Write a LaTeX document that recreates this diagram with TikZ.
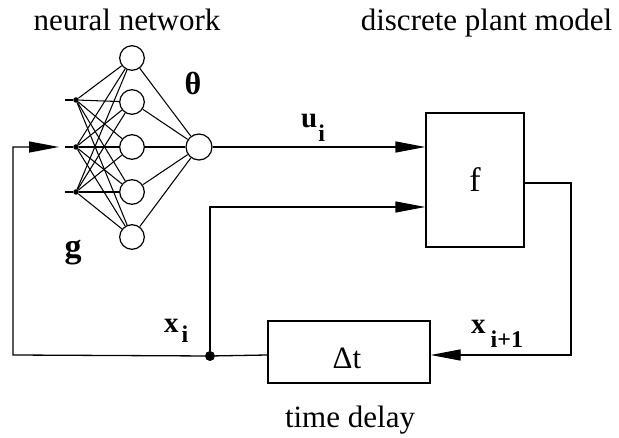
\documentclass[tikz,border=0pt]{standalone}
\usepackage{fontspec}
\setmainfont{Liberation Serif}
\usetikzlibrary{arrows.meta}
\newcommand\lowsub[2]{\raisebox{-#1}{\fontsize{24}{28}\selectfont #2}}
\begin{document}
\begin{tikzpicture}[x=1pt,y=-1pt,
  wire/.style={line width=1.3pt},
  thin wire/.style={line width=1.05pt},
  arr/.style={wire,-{Triangle[length=30pt,width=11pt]}},
  neuron/.style={circle,draw,line width=1.2pt,minimum size=24.6pt,inner sep=0pt},
  indot/.style={circle,fill,inner sep=0pt,minimum size=5.5pt},
  block/.style={draw,line width=1.3pt,inner sep=0pt},
  big/.style={font=\fontsize{31}{36}\selectfont,inner sep=0pt},
  sym/.style={font=\fontsize{32}{36}\selectfont\bfseries,inner sep=0pt},
  lbl/.style={font=\fontsize{29}{34}\selectfont\bfseries,inner sep=0pt,anchor=base west},
]
\path[use as bounding box] (0,0) rectangle (619,438);
% neural network
\foreach \n/\y in {1/58,2/102,3/147,4/192,5/237}
  \node[neuron] (h\n) at (132,\y) {};
\node[neuron,minimum size=26pt] (o) at (199,147) {};
\foreach \n/\y in {1/100,2/147,3/192}{
  \node[indot] (i\n) at (76,\y) {};
  \coordinate (s\n) at (65,\y);
}
\foreach \a in {1,2,3}{
  \draw[thin wire] (s\a) -- (i\a);
  \foreach \b in {1,...,5} \draw[thin wire] (i\a) -- (h\b);
}
\foreach \b in {1,...,5} \draw[thin wire] (h\b) -- (o);
% plant
\node[block,minimum width=98pt,minimum height=134pt,font=\fontsize{34}{38}\selectfont] (f) at (475,180) {f};
\draw[arr] (o) -- (o -| f.west);
% delay
\node[block,minimum width=162pt,minimum height=62pt] (dt) at (349,352) {};
\node[big] (dtl) at (347,358) {Δt};
\node[circle,fill,inner sep=0pt,minimum size=10pt] (D) at (210,356) {};
\draw[arr] (D) |- (f.west |- 0,207);
\coordinate (r) at (571,183);
\coordinate (rc) at (571,355);
\draw[arr] (f.east |- r) -- (r) -- (rc) -- (dt.east |- rc);
\draw[wire] (dt.west |- rc) -- (D);
\coordinate (lc) at (13,355);
\draw[arr,shorten >=6pt] (D) -- (lc) |- (s2);
% labels
\node[big,anchor=base] (t1) at (127,31) {neural network};
\node[big,anchor=base] (t2) at (486.5,31) {discrete plant model};
\node[big,anchor=base] (t3) at (350,428) {time delay};
\node[sym] (th) at (193,83) {θ};
\node[sym,anchor=base,font=\fontsize{34}{38}\selectfont\bfseries] (g) at (73,258) {g};
\node[lbl] (u) at (301,128) {u\kern1pt\lowsub{14pt}{i}};
\node[lbl] (xi) at (164,333) {x\kern3pt\lowsub{10pt}{i}};
\node[lbl] (xi1) at (471,334) {x\kern5pt\lowsub{14pt}{i+1}};
\end{tikzpicture}
\end{document}
